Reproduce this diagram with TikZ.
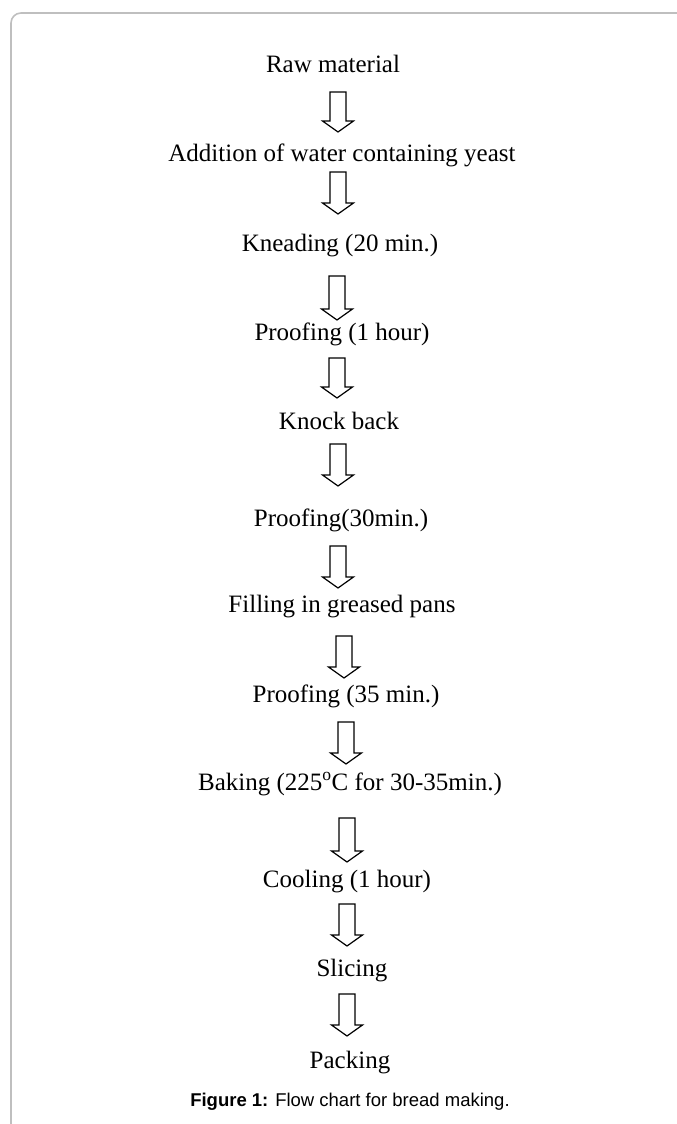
\documentclass[tikz,border=0pt]{standalone}
\usepackage{fontspec}
\setmainfont{Liberation Serif}
\newfontfamily\capfont{Liberation Sans}
\begin{document}
\begin{tikzpicture}[x=1pt,y=-1pt,
  steptext/.style={font=\fontsize{25}{30}\selectfont, inner sep=0pt, anchor=base},
  captext/.style={font=\capfont\fontsize{18.5}{22}\selectfont, inner sep=0pt, anchor=base},
  arrowline/.style={draw=black, line width=1.2pt, line join=miter, fill=white},
  framegray/.style={draw=black!25, line width=1.6pt},
  pics/barrow/.style={code={\draw[arrowline] (-8,0) -- (8,0) -- (8,#1-11) -- (15.5,#1-11) -- (0,#1) -- (-15.5,#1-11) -- (-8,#1-11) -- cycle;}}]
\useasboundingbox (0,0) rectangle (677,1124);
\clip (0,0) rectangle (677,1124);
\draw[framegray, rounded corners=10pt] (11,1140) -- (11,13) -- (700,13);

\node[steptext] (s1) at (333,72) {Raw material};
\node[steptext] (s2) at (342,161) {Addition of water containing yeast};
\node[steptext] (s3) at (340,251) {Kneading (20 min.)};
\node[steptext] (s4) at (342,340) {Proofing (1 hour)};
\node[steptext] (s5) at (339,429) {Knock back};
\node[steptext] (s6) at (341,526) {Proofing(30min.)};
\node[steptext] (s7) at (342,612) {Filling in greased pans};
\node[steptext] (s8) at (346,702) {Proofing (35 min.)};
\node[steptext] (s9) at (350,790) {Baking (225\textsuperscript{o}C for 30-35min.)};
\node[steptext] (s10) at (347,887) {Cooling (1 hour)};
\node[steptext] (s11) at (352,976) {Slicing};
\node[steptext] (s12) at (350,1068) {Packing};
\node[captext] (cap) at (350,1106) {\textbf{Figure 1:} Flow chart for bread making.};

\pic at (338,92) {barrow=40};
\pic at (338,172) {barrow=42};
\pic at (337,276) {barrow=44};
\pic at (337,358) {barrow=40};
\pic at (338,444) {barrow=42};
\pic at (338,546) {barrow=42};
\pic at (344,636) {barrow=42};
\pic at (346,722) {barrow=42};
\pic at (347,818) {barrow=44};
\pic at (347,904) {barrow=42};
\pic at (347,994) {barrow=42};
\end{tikzpicture}
\end{document}
